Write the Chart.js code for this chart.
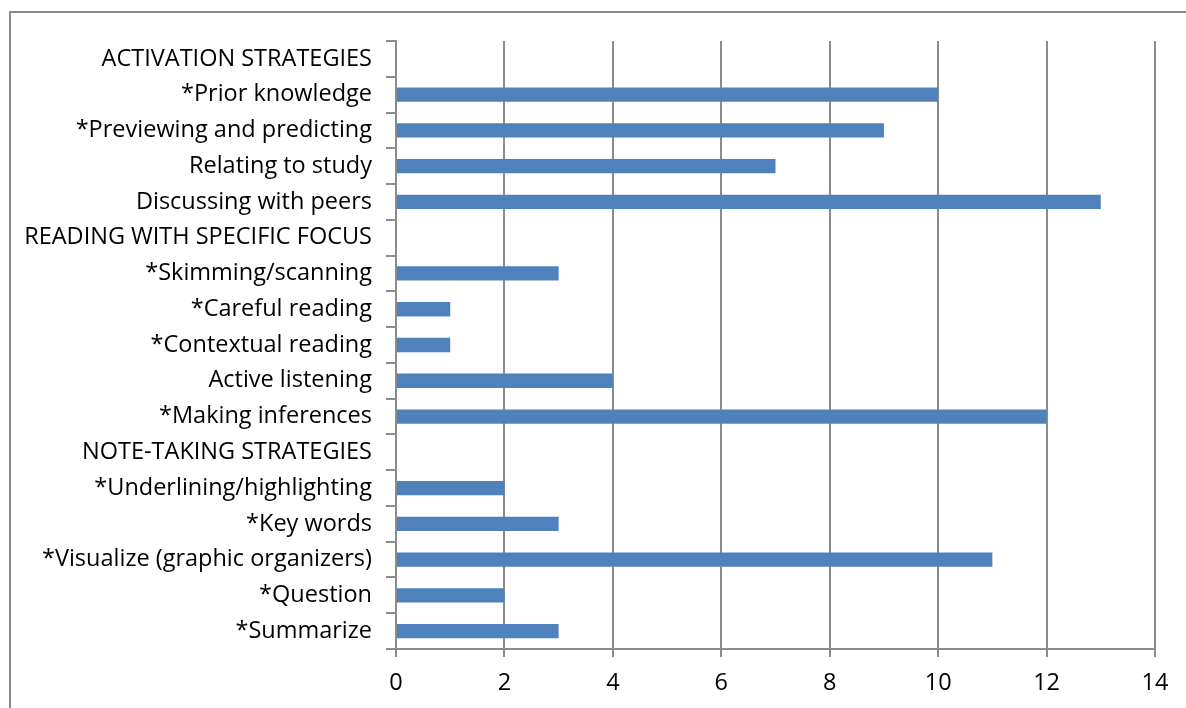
<!DOCTYPE html>
<html>
<head>
<meta charset="utf-8">
<script src="https://cdn.jsdelivr.net/npm/chart.js@4.4.1/dist/chart.umd.min.js"></script>
<style>
  html, body { margin: 0; padding: 0; background: #fff; }
  #wrap { position: relative; width: 1186px; height: 708px; overflow: hidden; }
  #frame { position: absolute; left: 9px; top: 11px; width: 1300px; height: 800px;
           border-left: 2px solid #8a8a8a; border-top: 2px solid #8a8a8a; }
  canvas { position: absolute; left: 0; top: 0; }
</style>
</head>
<body>
<div id="wrap">
  <div id="frame"></div>
  <canvas id="chart" width="1186" height="708"></canvas>
</div>
<script>
const categories = [
  'ACTIVATION STRATEGIES',
  '*Prior knowledge',
  '*Previewing and predicting',
  'Relating to study',
  'Discussing with peers',
  'READING WITH SPECIFIC FOCUS',
  '*Skimming/scanning',
  '*Careful reading',
  '*Contextual reading',
  'Active listening',
  '*Making inferences',
  'NOTE-TAKING STRATEGIES',
  '*Underlining/highlighting',
  '*Key words',
  '*Visualize (graphic organizers)',
  '*Question',
  '*Summarize'
];
const counts = [null, 10, 9, 7, 13, null, 3, 1, 1, 4, 12, null, 2, 3, 11, 2, 3];
const xMin = 0;
const xMax = 14;
const xStep = 2;

const FONT = '"Open Sans", Lato, sans-serif';
const GRID = '#8c8c8c';

const ctx = document.getElementById('chart').getContext('2d');
new Chart(ctx, {
  type: 'bar',
  data: {
    labels: categories,
    datasets: [{
      data: counts,
      backgroundColor: '#4F81BD',
      borderWidth: 0,
      barPercentage: 0.4,
      categoryPercentage: 1.0,
    }],
  },
  options: {
    indexAxis: 'y',
    responsive: false,
    animation: false,
    layout: { padding: { left: 0, right: 31, top: 41, bottom: 0 } },
    plugins: { legend: { display: false }, tooltip: { enabled: false } },
    scales: {
      y: {
        afterFit: (scale) => { scale.width = 396; },
        grid: { drawOnChartArea: false, tickLength: 10, color: GRID, lineWidth: 2 },
        border: { display: true, color: GRID, width: 2 },
        ticks: { color: '#000', font: { family: FONT, size: 23.5 }, padding: 14, autoSkip: false },
      },
      x: {
        min: xMin,
        max: xMax,
        afterFit: (scale) => { scale.height = 59; },
        grid: { drawOnChartArea: true, tickLength: 8, color: GRID, lineWidth: 2 },
        border: { display: true, color: GRID, width: 2 },
        ticks: { stepSize: xStep, color: '#000', font: { family: FONT, size: 23.5 }, padding: 12 },
      },
    },
  },
});
</script>
</body>
</html>
